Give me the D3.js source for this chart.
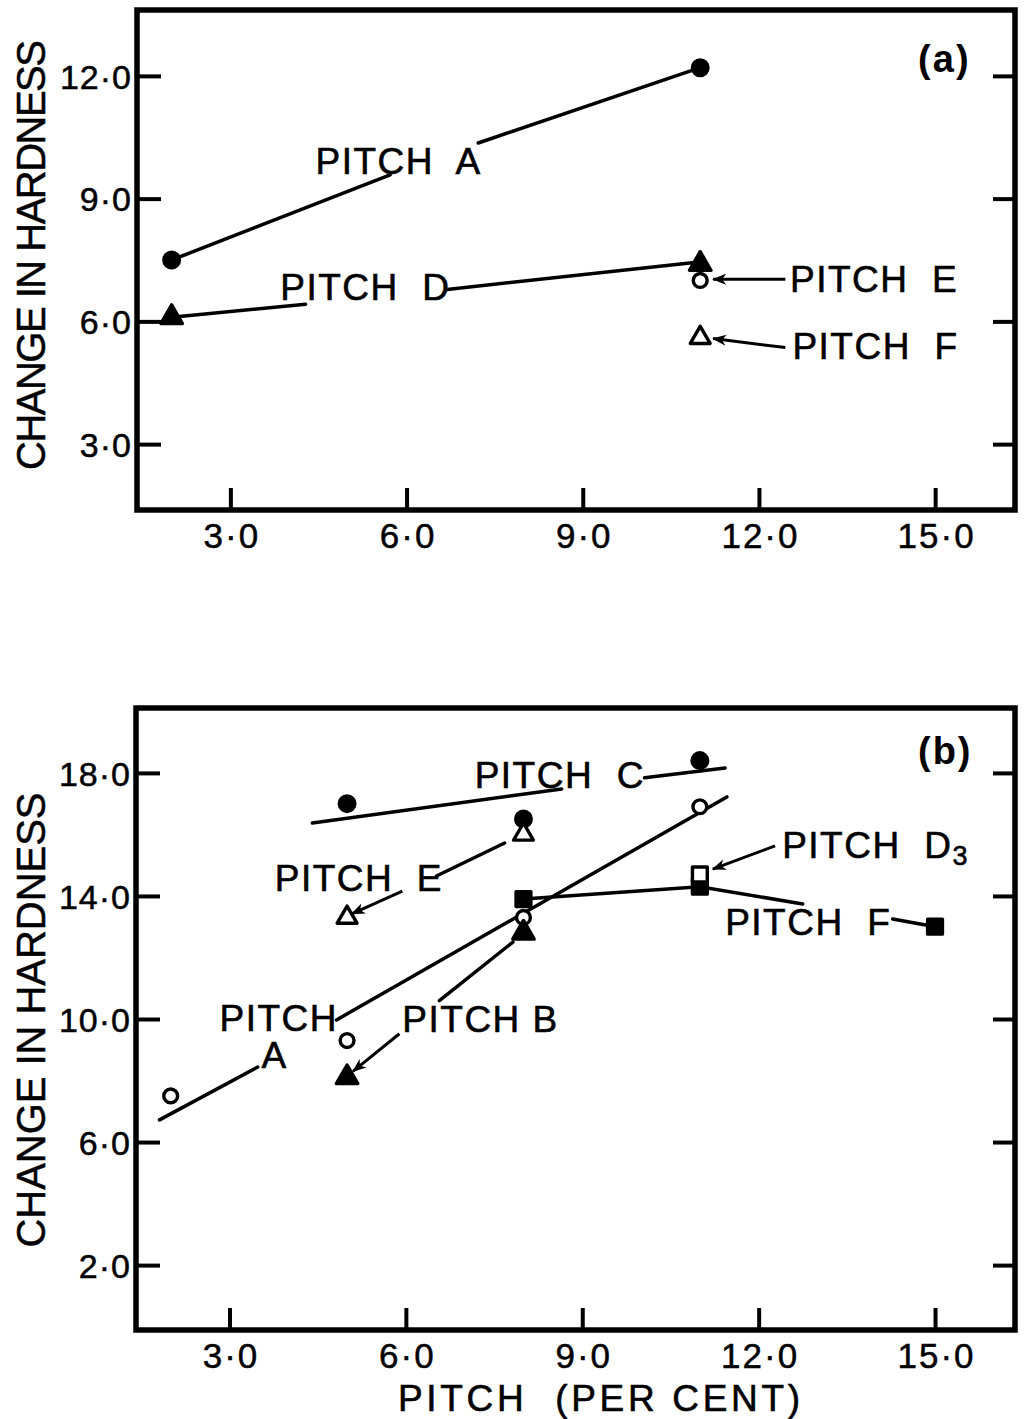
<!DOCTYPE html>
<html>
<head>
<meta charset="utf-8">
<script src="https://cdn.jsdelivr.net/npm/d3@7"></script>
<style>
  body { margin: 0; background: #fff; }
  svg text { font-family: "Liberation Sans", Arial, sans-serif; fill: #000; white-space: pre; }
</style>
</head>
<body>
<div id="chart"></div>
<script>
// ---- data ----
var xTicks = [3, 6, 9, 12, 15];
var yTicksA = [3, 6, 9, 12];
var yTicksB = [2, 6, 10, 14, 18];

// panel (a) points
var a_pitchA = [[2, 7.5], [11, 12.2]];
var a_pitchD = [[2, 6.1], [11, 7.4]];
var a_pitchE = [[11, 7.0]];
var a_pitchF = [[11, 5.6]];

// panel (b) points
var b_pitchA = [[2, 7.5], [5, 9.3], [8, 13.3], [11, 16.9]];
var b_pitchB = [[5, 8.1], [8, 12.8]];
var b_pitchC = [[5, 17.0], [8, 16.5], [11, 18.4]];
var b_pitchE = [[5, 13.3], [8, 16.0]];
var b_pitchD3 = [[11, 14.7]];
var b_pitchF = [[8, 13.9], [11, 14.3], [15, 13.0]];

// drawn lines (broken where the labels sit)
var a_lines = [
    [[2, 7.5], [5.72, 9.58]],
    [[7.22, 10.36], [11, 12.2]],
    [[2, 6.1], [4.28, 6.42]],
    [[6.69, 6.78], [10.9, 7.44]]
];
var b_lines = [
    [[4.41, 16.37], [8.65, 17.48]],          // C fit
    [[10.06, 17.84], [11.43, 18.16]],
    [[1.81, 6.72], [3.48, 8.44]],            // A fit
    [[4.82, 9.97], [11.46, 17.22]],
    [[8, 13.9], [11, 14.3], [12.75, 13.74]], // F
    [[14.28, 13.25], [15, 13.0]],
    [[6.52, 14.65], [7.68, 15.72]],          // E leader
    [[6.57, 10.6], [7.82, 12.5]]             // B leader
];
// leaders with arrow heads: [from, to]
var a_arrows = [
    [[12.45, 7.03], [11.22, 7.03]],
    [[12.45, 5.36], [11.22, 5.58]]
];
var b_arrows = [
    [[5.94, 14.16], [5.08, 13.42]],
    [[5.89, 9.52], [5.1, 8.3]],
    [[12.28, 15.63], [11.22, 14.87]]
];

// labels: [lines of text, left x, middle y of first line]
var a_labels = [
    [["PITCH  A"], 4.45, 9.92],
    [["PITCH  D"], 3.85, 6.84],
    [["PITCH  E"], 12.53, 7.05],
    [["PITCH  F"], 12.57, 5.4]
];
var b_labels = [
    [["PITCH  C"], 7.17, 17.95],
    [["PITCH  E"], 3.77, 14.6],
    [["PITCH", "A"], 2.83, 10.03],
    [["PITCH B"], 5.94, 10.0],
    [["PITCH  F"], 11.43, 13.15]
];

var xDomain = [1.41, 16.36];
var yDomainA = [1.39, 13.61];
var yDomainB = [-0.11, 20.11];

var W = 1024, H = 1419;
var svg = d3.select("#chart").append("svg")
    .attr("width", W)
    .attr("height", H);

var defs = svg.append("defs");
defs.append("marker")
    .attr("id", "arrow")
    .attr("viewBox", "0 -6 14 12")
    .attr("refX", 13)
    .attr("refY", 0)
    .attr("markerWidth", 14)
    .attr("markerHeight", 12)
    .attr("markerUnits", "userSpaceOnUse")
    .attr("orient", "auto")
    .append("path")
    .attr("d", "M0,-5.5L14,0L0,5.5L4,0Z")
    .attr("fill", "#000");

var fmt = function(d) { return d3.format(".1f")(d).replace(".", "\u00b7"); };

function panel(box, yDomain, yTicks) {
    var w = box.right - box.left, h = box.bottom - box.top;
    var g = svg.append("g").attr("transform", "translate(" + box.left + "," + box.top + ")");
    var x = d3.scaleLinear().domain(xDomain).range([0, w]);
    var y = d3.scaleLinear().domain(yDomain).range([h, 0]);

    var left = g.append("g")
        .call(d3.axisLeft(y).tickValues(yTicks).tickSizeInner(-24).tickSizeOuter(0).tickPadding(5).tickFormat(fmt));
    var right = g.append("g").attr("transform", "translate(" + w + ",0)")
        .call(d3.axisRight(y).tickValues(yTicks).tickSizeInner(-22).tickSizeOuter(0).tickFormat(""));
    var bottom = g.append("g").attr("transform", "translate(0," + h + ")")
        .call(d3.axisBottom(x).tickValues(xTicks).tickSizeInner(-22).tickSizeOuter(0).tickPadding(13).tickFormat(fmt));
    [left, right, bottom].forEach(function(a) {
        a.select(".domain").remove();
        a.selectAll(".tick line").attr("stroke", "#000").attr("stroke-width", 4);
        a.selectAll(".tick text").attr("font-size", 35).attr("fill", "#000")
            .attr("letter-spacing", 2)
            .attr("stroke", "#000").attr("stroke-width", 0.5);
    });
    left.selectAll(".tick text").attr("dy", "0.36em").attr("font-size", 34).attr("letter-spacing", 1);
    bottom.selectAll(".tick text").attr("dy", "0.72em").attr("dx", 1);

    g.append("rect")
        .attr("width", w).attr("height", h)
        .attr("fill", "none").attr("stroke", "#000").attr("stroke-width", 5.5);

    return {g: g, x: x, y: y, w: w, h: h};
}

function drawLines(p, lines) {
    var line = d3.line().x(function(d) { return p.x(d[0]); }).y(function(d) { return p.y(d[1]); });
    p.g.append("g").selectAll("path").data(lines).enter().append("path")
        .attr("d", line).attr("fill", "none").attr("stroke", "#000")
        .attr("stroke-width", 3.5).attr("stroke-linecap", "round");
}

function drawArrows(p, arrows) {
    p.g.append("g").selectAll("line").data(arrows).enter().append("line")
        .attr("x1", function(d) { return p.x(d[0][0]); })
        .attr("y1", function(d) { return p.y(d[0][1]); })
        .attr("x2", function(d) { return p.x(d[1][0]); })
        .attr("y2", function(d) { return p.y(d[1][1]); })
        .attr("stroke", "#000").attr("stroke-width", 3)
        .attr("marker-end", "url(#arrow)");
}

function drawPoints(p, pts, kind) {
    var sym = {
        dot: d3.symbolCircle, ring: d3.symbolCircle,
        tri: d3.symbolTriangle, triFill: d3.symbolTriangle,
        sq: d3.symbolSquare, sqFill: d3.symbolSquare
    }[kind];
    var size = {dot: 190, ring: 150, tri: 170, triFill: 200, sq: 220, sqFill: 220}[kind];
    var filled = kind == "dot" || kind == "triFill" || kind == "sqFill";
    p.g.append("g").selectAll("path").data(pts).enter().append("path")
        .attr("transform", function(d) { return "translate(" + p.x(d[0]) + "," + p.y(d[1]) + ")"; })
        .attr("d", d3.symbol().type(sym).size(size))
        .attr("fill", filled ? "#000" : "#fff")
        .attr("stroke", "#000")
        .attr("stroke-width", 3.4)
        .attr("stroke-linejoin", "round");
}

function drawLabels(p, labels) {
    var t = p.g.append("g").selectAll("text").data(labels).enter().append("text")
        .attr("y", function(d) { return p.y(d[2]); })
        .attr("font-size", 37)
        .attr("letter-spacing", 1.5)
        .attr("stroke", "#000").attr("stroke-width", 0.6);
    t.selectAll("tspan").data(function(d) {
            return d[0].map(function(s, i) { return {s: s, i: i, x: d[1]}; });
        })
        .enter().append("tspan")
        .attr("x", function(d) { return p.x(d.x) + d.i * 42; })
        .attr("dy", function(d) { return d.i == 0 ? "0.36em" : "1.0em"; })
        .text(function(d) { return d.s; });
}

// ---- panel (a) ----
var pa = panel({left: 137, right: 1015, top: 10, bottom: 510}, yDomainA, yTicksA);
drawLines(pa, a_lines);
drawArrows(pa, a_arrows);
drawPoints(pa, a_pitchA, "dot");
drawPoints(pa, a_pitchD, "triFill");
drawPoints(pa, a_pitchE, "ring");
drawPoints(pa, a_pitchF, "tri");
drawLabels(pa, a_labels);
pa.g.append("text")
    .attr("x", pa.x(14.71)).attr("y", pa.y(12.42)).attr("dy", "0.36em")
    .attr("font-size", 38).attr("font-weight", "bold").attr("letter-spacing", 2)
    .text("(a)");

// ---- panel (b) ----
var pb = panel({left: 136, right: 1015, top: 708, bottom: 1330}, yDomainB, yTicksB);
drawLines(pb, b_lines);
drawArrows(pb, b_arrows);
drawPoints(pb, b_pitchC, "dot");
drawPoints(pb, b_pitchE, "tri");
drawPoints(pb, b_pitchF, "sqFill");
drawPoints(pb, b_pitchD3, "sq");
drawPoints(pb, b_pitchA, "ring");
drawPoints(pb, b_pitchB, "triFill");
drawLabels(pb, b_labels);
var d3lab = pb.g.append("text")
    .attr("x", pb.x(12.4)).attr("y", pb.y(15.66)).attr("dy", "0.36em")
    .attr("font-size", 37).attr("letter-spacing", 1.5)
    .attr("stroke", "#000").attr("stroke-width", 0.6)
    .text("PITCH  D");
d3lab.append("tspan").attr("font-size", 27).attr("dy", 7).text("3");
pb.g.append("text")
    .attr("x", pb.x(14.71)).attr("y", pb.y(18.75)).attr("dy", "0.36em")
    .attr("font-size", 38).attr("font-weight", "bold").attr("letter-spacing", 2)
    .text("(b)");

// ---- axis titles ----
[[255, 430], [1020, 455]].forEach(function(t) {
    svg.append("text")
        .attr("transform", "translate(45," + t[0] + ") rotate(-90)")
        .attr("text-anchor", "middle")
        .attr("font-size", 40)
        .attr("textLength", t[1]).attr("lengthAdjust", "spacing")
        .attr("stroke", "#000").attr("stroke-width", 0.5)
        .text("CHANGE IN HARDNESS");
});
svg.append("text")
    .attr("x", 599).attr("y", 1411)
    .attr("text-anchor", "middle")
    .attr("font-size", 37)
    .attr("textLength", 402).attr("lengthAdjust", "spacing")
    .attr("stroke", "#000").attr("stroke-width", 0.6)
    .text("PITCH  (PER CENT)");
</script>
</body>
</html>
